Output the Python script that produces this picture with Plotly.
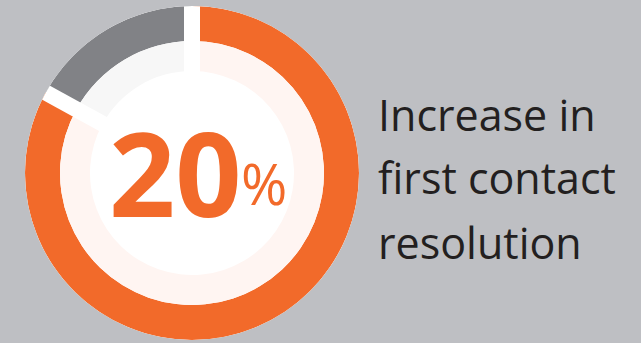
import plotly.graph_objects as go

# ---- data ----
segment_labels = ["Improved", "Remaining"]
segment_values = [83, 17]          # share of the ring (percent)
outer_colors = ["#f26a2a", "#818286"]
inner_colors = ["#fff5f2", "#f7f7f7"]
headline_value = 20
caption_lines = ["Increase in", "first contact", "resolution"]

# ring radii (style)
R_OUT, R_MID, R_IN = 167, 132, 102
BG = "#bebfc3"

total = sum(segment_values)
spans = [v / total * 360 for v in segment_values]
starts = [0]
for s in spans[:-1]:
    starts.append(starts[-1] + s)
centers = [st + sp / 2 for st, sp in zip(starts, spans)]

fig = go.Figure()
# outer ring
fig.add_trace(go.Barpolar(
    theta=centers, width=spans, r=[R_OUT - R_MID] * 2, base=[R_MID] * 2,
    marker=dict(color=outer_colors, line=dict(width=0)),
    hoverinfo="skip", showlegend=False))
# inner pale ring
fig.add_trace(go.Barpolar(
    theta=centers, width=spans, r=[R_MID - R_IN] * 2, base=[R_IN] * 2,
    marker=dict(color=inner_colors, line=dict(width=0)),
    hoverinfo="skip", showlegend=False))
# gap separators at segment boundaries
for st in starts:
    fig.add_trace(go.Scatterpolar(
        theta=[st, st], r=[R_IN - 2, R_OUT], mode="lines",
        line=dict(color="white", width=16), hoverinfo="skip", showlegend=False))

W, H = 641, 343
cx, cy = 192, 173
fig.update_layout(
    width=W, height=H,
    margin=dict(l=0, r=0, t=0, b=0),
    paper_bgcolor=BG, plot_bgcolor=BG,
    polar=dict(
        domain=dict(x=[(cx - R_OUT) / W, (cx + R_OUT) / W],
                    y=[(H - cy - R_OUT) / H, (H - cy + R_OUT) / H]),
        bgcolor="white",
        radialaxis=dict(range=[0, R_OUT], visible=False),
        angularaxis=dict(visible=False, rotation=90, direction="clockwise"),
        barmode="overlay",
    ),
)

orange = outer_colors[0]
fig.add_annotation(
    text=f"<b>{headline_value}</b>", x=113 / W, y=1 - 222 / H,
    xref="paper", yref="paper", xanchor="left", yanchor="bottom",
    showarrow=False, font=dict(family="Open Sans", size=116, color=orange),
    xshift=-6, yshift=-31)
fig.add_annotation(
    text="%", x=242 / W, y=1 - 208 / H,
    xref="paper", yref="paper", xanchor="left", yanchor="bottom",
    showarrow=False, font=dict(family="Open Sans", size=56, color=orange),
    xshift=-3, yshift=-15)

baselines = [134, 197, 262]
for line, b in zip(caption_lines, baselines):
    fig.add_annotation(
        text=line, x=379 / W, y=1 - b / H,
        xref="paper", yref="paper", xanchor="left", yanchor="bottom",
        showarrow=False, font=dict(family="Open Sans", size=43, color="#231f20"),
        xshift=-3, yshift=-12)

fig.write_html("out.html")
